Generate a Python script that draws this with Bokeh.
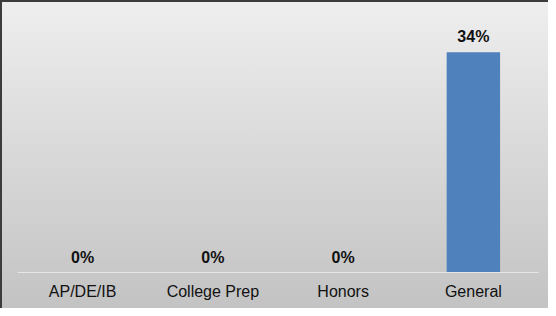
from bokeh.plotting import figure
from bokeh.models import ColumnDataSource, Range1d, FactorRange, LabelSet
from bokeh.core.properties import value
from bokeh.embed import file_html
from bokeh.resources import INLINE

categories = ["AP/DE/IB", "College Prep", "Honors", "General"]
values = [0.0, 0.0, 0.0, 0.34]
labels = ["{:.0f}%".format(v * 100) for v in values]

src = ColumnDataSource(dict(cat=categories, val=values, lab=labels))

p = figure(width=548, height=308, x_range=FactorRange(*categories, range_padding=0),
           y_range=Range1d(0, 0.4), output_backend="svg", toolbar_location=None,
           min_border_left=15, min_border_right=12, min_border_top=11, min_border_bottom=38)

p.border_fill_color = None
p.background_fill_color = None
p.outline_line_color = None
p.styles = {"background": "linear-gradient(to bottom, #eeeeee, #c3c3c3)",
            "border-left": "2px solid #3c3c3c", "border-top": "2px solid #3c3c3c"}

p.vbar(x="cat", top="val", width=0.41, source=src, color="#4f81bd", line_color=None)

p.add_layout(LabelSet(x="cat", y="val", text="lab", source=src, text_align="center",
                      text_baseline="bottom", y_offset=7, text_font=value("Liberation Sans"),
                      text_font_style="bold", text_font_size="16px", text_color="#111111"))

p.yaxis.visible = False
p.xgrid.visible = False
p.ygrid.visible = False
p.xaxis.axis_line_color = "#e6e6e6"
p.xaxis.major_tick_line_color = None
p.xaxis.minor_tick_line_color = None
p.xaxis.major_label_text_font = "Liberation Sans"
p.xaxis.major_label_text_font_size = "16px"
p.xaxis.major_label_text_color = "#111111"
p.xaxis.major_label_standoff = 4

open("out.html", "w").write(file_html(p, INLINE))
